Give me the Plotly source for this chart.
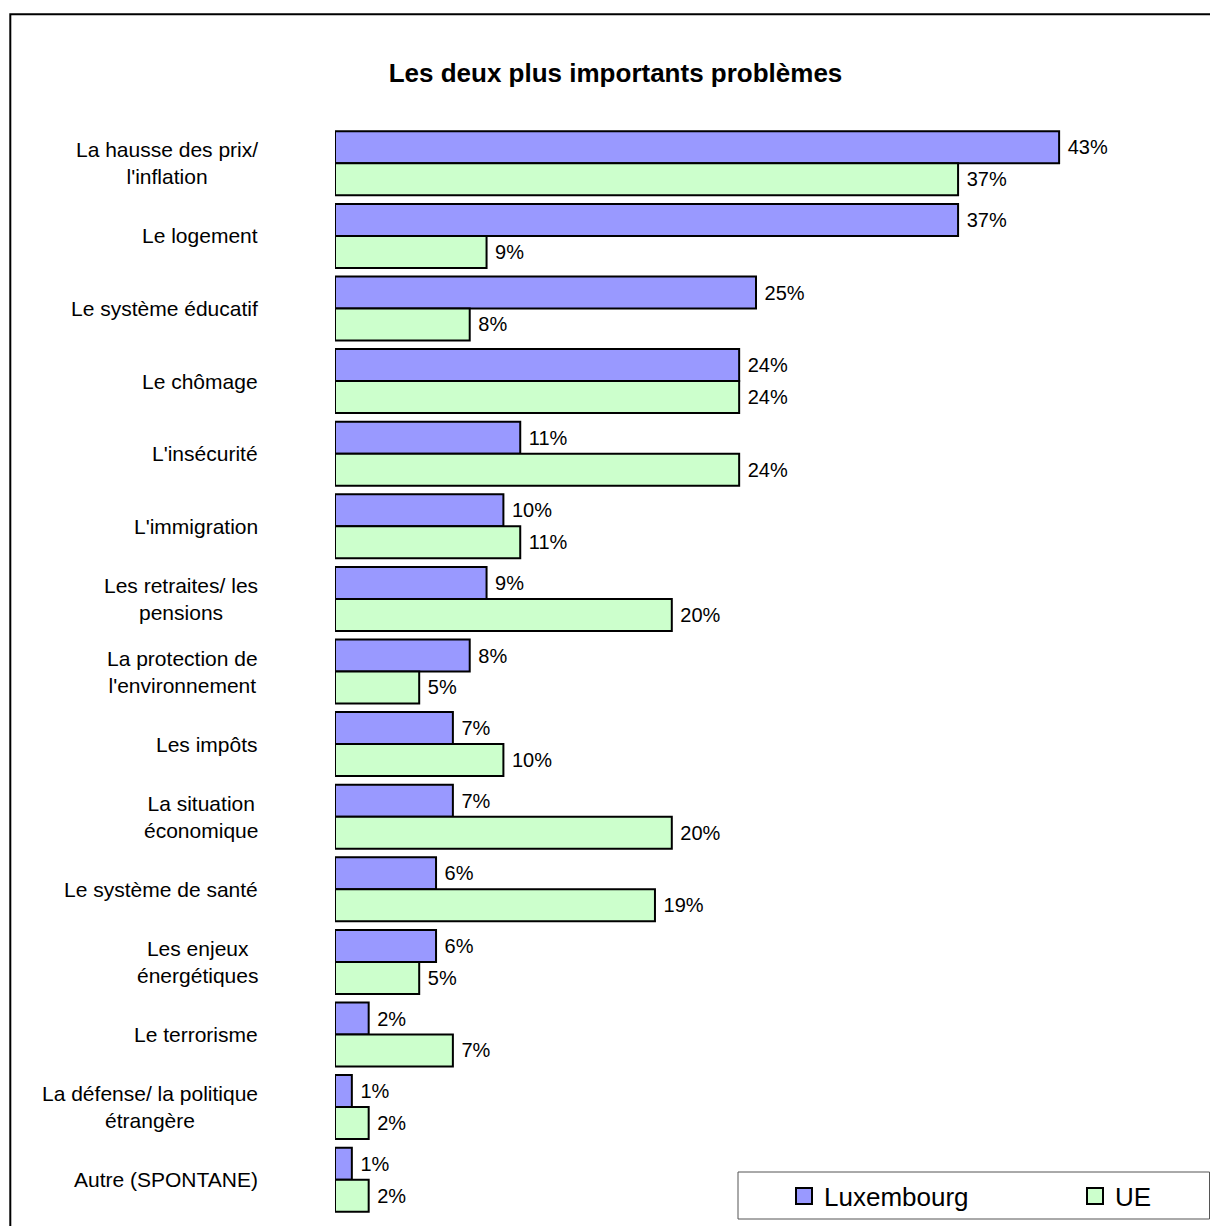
import plotly.graph_objects as go

categories = [
    "La hausse des prix/<br>l'inflation",
    "Le logement",
    "Le système éducatif",
    "Le chômage",
    "L'insécurité",
    "L'immigration",
    "Les retraites/ les<br>pensions",
    "La protection de<br>l'environnement",
    "Les impôts",
    "La situation<br>économique",
    "Le système de santé",
    "Les enjeux<br>énergétiques",
    "Le terrorisme",
    "La défense/ la politique<br>étrangère",
    "Autre (SPONTANE)",
]
luxembourg = [43, 37, 25, 24, 11, 10, 9, 8, 7, 7, 6, 6, 2, 1, 1]
ue = [37, 9, 8, 24, 24, 11, 20, 5, 10, 20, 19, 5, 7, 2, 2]
series_names = ["Luxembourg", "UE"]
title_text = "Les deux plus importants problèmes"

W, H = 1210, 1226
ML, MR, MT, MB = 335, 50, 127, 10
PW, PH = W - ML - MR, H - MT - MB
PX_PER_UNIT = 16.84
XMAX = PW / PX_PER_UNIT


def px2x(px):
    return (px - ML) / PW


def px2y(py):
    return (H - MB - py) / PH


FONT = "Liberation Sans, Arial, sans-serif"
cat_ids = [c.replace("<br>", " ") for c in categories]
colors = ["#9999FF", "#CCFFCC"]
legend_ids = ["legend", "legend2"]

fig = go.Figure()
for name, vals, color in zip(series_names, [luxembourg, ue], colors):
    fig.add_trace(go.Bar(
        name=name,
        y=cat_ids,
        x=vals,
        orientation="h",
        marker=dict(color=color, line=dict(color="black", width=2)),
        texttemplate="\u00a0%{x}%",
        textposition="outside",
        constraintext="none",
        cliponaxis=False,
        textfont=dict(family=FONT, size=20, color="black"),
        showlegend=False,
    ))

# legend entries (square swatches like the original)
for name, color, lg in zip(series_names, colors, legend_ids):
    fig.add_trace(go.Scatter(
        name=name, x=[None], y=[None], mode="markers",
        marker=dict(symbol="square", size=16, color=color, line=dict(color="black", width=2)),
        showlegend=True, legend=lg, hoverinfo="skip",
    ))

for cid, lab in zip(cat_ids, categories):
    fig.add_annotation(
        x=px2x(260), xref="paper", y=cid, yref="y",
        text=lab, showarrow=False, xanchor="right", align="center",
        font=dict(family=FONT, size=21, color="black"),
    )

# outer frame
fig.add_shape(type="rect", xref="paper", yref="paper",
              x0=px2x(10.3), x1=px2x(1216), y0=px2y(1240), y1=px2y(14.3),
              line=dict(color="black", width=2), fillcolor="rgba(0,0,0,0)")
# legend frame
fig.add_shape(type="rect", xref="paper", yref="paper",
              x0=px2x(738), x1=px2x(1209.5), y0=px2y(1219), y1=px2y(1172),
              line=dict(color="#555", width=1), fillcolor="rgba(0,0,0,0)")

leg_common = dict(orientation="h", xanchor="left", yanchor="middle",
                  xref="container", yref="container", y=1 - 1196 / H,
                  bgcolor="rgba(0,0,0,0)", borderwidth=0,
                  font=dict(family=FONT, size=26, color="black"))

fig.update_layout(
    width=W, height=H,
    margin=dict(l=ML, r=MR, t=MT, b=MB, autoexpand=False),
    paper_bgcolor="white", plot_bgcolor="white",
    barmode="group", bargap=0.119, bargroupgap=0,
    title=dict(text="<b>" + title_text + "</b>", x=615.5 / W, xanchor="center",
               y=1 - 73 / H, yanchor="middle", font=dict(family=FONT, size=26, color="black")),
    xaxis=dict(range=[0, XMAX], visible=False, fixedrange=True),
    yaxis=dict(autorange="reversed", showticklabels=False, showgrid=False,
               zeroline=False, showline=False, ticks=""),
    showlegend=True,
    legend=dict(x=784 / W, **leg_common),
    legend2=dict(x=1075 / W, **leg_common),
)

fig.write_html("out.html", config={"displayModeBar": False},
               post_script="document.body.style.margin='0';")
